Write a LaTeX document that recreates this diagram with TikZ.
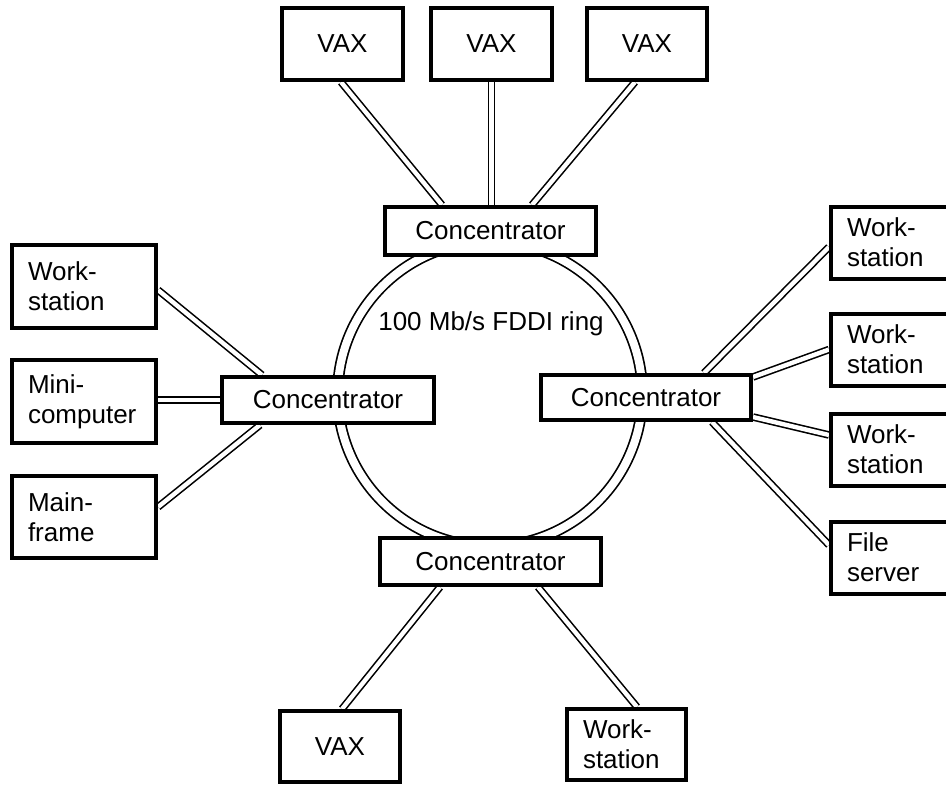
\documentclass[tikz,border=0pt]{standalone}
\usepackage{fontspec}
\setmainfont{Liberation Sans}
\usetikzlibrary{backgrounds}
\begin{document}
\begin{tikzpicture}[x=1pt,y=-1pt,
  every node/.style={font=\fontsize{26}{30}\selectfont},
  box/.style={draw, line width=4pt, fill=white, inner sep=0pt},
  tbox/.style={box, align=left, inner xsep=16pt, text width=#1},
  link/.style={line width=1.6pt, double=white, double distance=4.4pt},
  ringline/.style={line width=1.7pt, double=white, double distance=8pt}]
\useasboundingbox (0,0) rectangle (946,785);

% top VAX boxes
\node[box, minimum width=121pt, minimum height=72pt] (vax1) at (342.5,44) {VAX};
\node[box, minimum width=121pt, minimum height=72pt] (vax2) at (491.5,44) {VAX};
\node[box, minimum width=120pt, minimum height=72pt] (vax3) at (647,44) {VAX};

% concentrators
\node[box, minimum width=211pt, minimum height=48pt] (ctop) at (490.5,231) {Concentrator};
\node[box, minimum width=212pt, minimum height=46pt] (cleft) at (328,400) {Concentrator};
\node[box, minimum width=210pt, minimum height=45pt] (cright) at (646,397.5) {Concentrator};
\node[box, minimum width=221pt, minimum height=47pt] (cbot) at (490.5,561.5) {Concentrator};

% left boxes
\node[tbox=112pt, minimum width=144pt, minimum height=83pt] (lws) at (84,286.5) {Work-\\station};
\node[tbox=112pt, minimum width=144pt, minimum height=83pt] (mini) at (84,401.5) {Mini-\\computer};
\node[tbox=112pt, minimum width=144pt, minimum height=82pt] (main) at (84,517) {Main-\\frame};

% right boxes
\node[tbox=89pt, minimum width=121pt, minimum height=72pt] (rws1) at (891.5,242.5) {Work-\\station};
\node[tbox=89pt, minimum width=121pt, minimum height=72pt] (rws2) at (891.5,349.5) {Work-\\station};
\node[tbox=89pt, minimum width=121pt, minimum height=72pt] (rws3) at (891.5,449.5) {Work-\\station};
\node[tbox=89pt, minimum width=121pt, minimum height=72pt] (rfs) at (891.5,557.5) {File\\server};

% bottom boxes
\node[box, minimum width=120pt, minimum height=71pt] (bvax) at (340,746.5) {VAX};
\node[tbox=87pt, minimum width=119pt, minimum height=71pt] (bws) at (626.5,744.5) {Work-\\station};

% ring label
\node[anchor=base, inner sep=0pt] (ringlabel) at (491,330) {100 Mb/s FDDI ring};

\begin{scope}[on background layer]
  \coordinate (ringc) at (490,394);
  \draw[ringline] (ringc) circle[radius=152.3pt];
  % top
  \draw[link] ([xshift=-1.5pt]vax1.south) -- ([xshift=-48.5pt]ctop.north);
  \draw[link] (vax2.south) -- (vax2.south |- ctop.north);
  \draw[link] ([xshift=-12pt]vax3.south) -- ([xshift=41.5pt]ctop.north);
  % left
  \draw[link] ([yshift=-3.5pt]lws.east) -- ([xshift=-66pt]cleft.north);
  \draw[link] (cleft.west -| mini.east) -- (cleft.west);
  \draw[link] ([yshift=10pt]main.east) -- ([xshift=-68pt]cleft.south);
  % right
  \draw[link] ([xshift=58pt]cright.north) -- ([yshift=-4.5pt]rws1.west);
  \draw[link] ([yshift=20.5pt]cright.east) -- (rws2.west);
  \draw[link] ([yshift=-19.5pt]cright.east) -- ([yshift=14.5pt]rws3.west);
  \draw[link] ([xshift=66pt]cright.south) -- ([yshift=12.5pt]rfs.west);
  % bottom
  \draw[link] ([xshift=-50.5pt]cbot.south) -- ([xshift=2pt]bvax.north);
  \draw[link] ([xshift=47.5pt]cbot.south) -- ([xshift=10.5pt]bws.north);
\end{scope}
\end{tikzpicture}
\end{document}
